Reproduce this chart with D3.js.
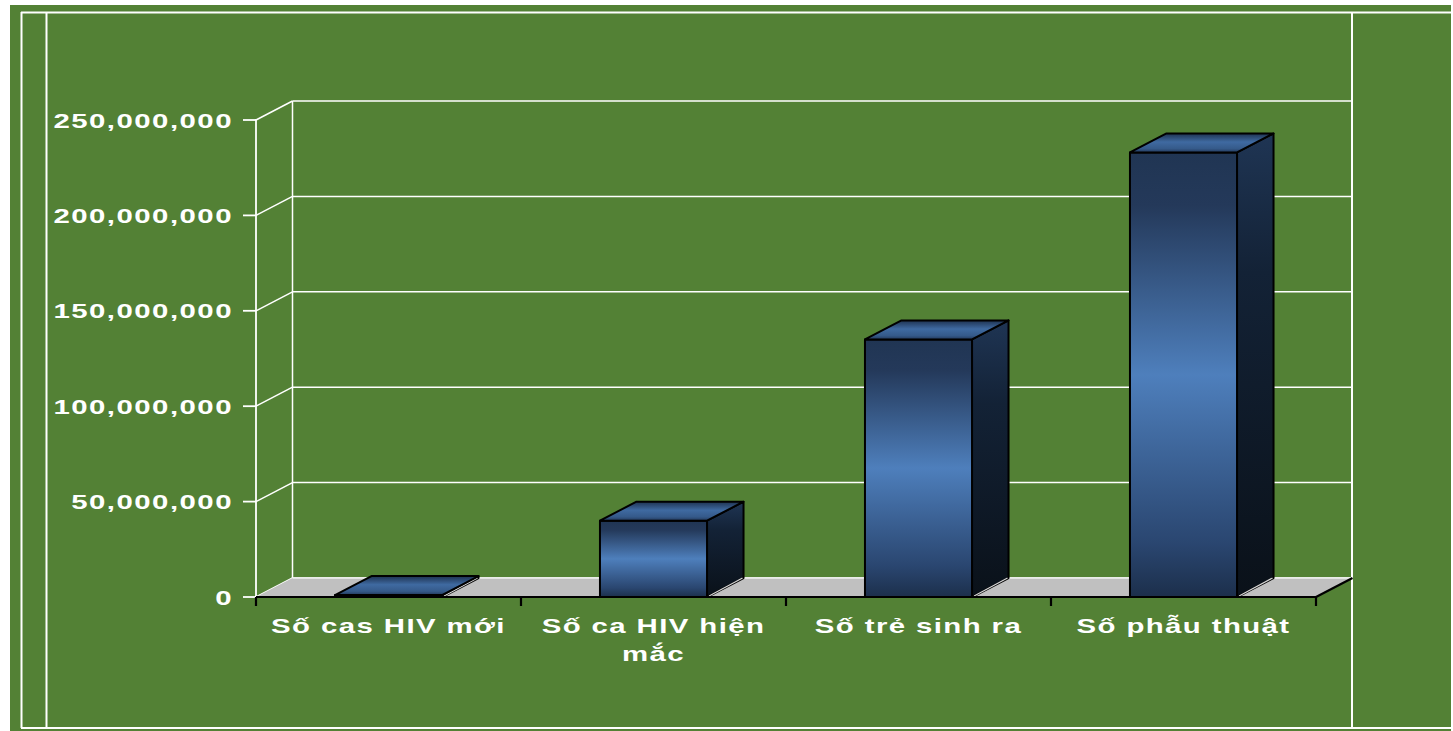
<!DOCTYPE html>
<html>
<head>
<meta charset="utf-8">
<script src="https://cdn.jsdelivr.net/npm/d3@7"></script>
<style>
  html, body { margin: 0; padding: 0; background: #ffffff; }
  svg { display: block; }
  text { font-family: Arial, "Liberation Sans", sans-serif; font-weight: bold; fill: #ffffff; }
</style>
</head>
<body>
<svg id="chart" width="1453" height="731"></svg>
<script>
// Chart data
const categories = ["Số cas HIV mới", "Số ca HIV hiện mắc", "Số trẻ sinh ra", "Số phẫu thuật"];
const values = [1000000, 40000000, 135000000, 233000000];
const yTicks = [0, 50000000, 100000000, 150000000, 200000000, 250000000];

const svg = d3.select("#chart");

// Frame and background
const green = "#538135";
svg.append("rect").attr("x", 10).attr("y", 5).attr("width", 1441).attr("height", 726).attr("fill", green);

const frame = svg.append("g").attr("stroke", "#ffffff").attr("stroke-width", 2).attr("fill", "none");
frame.append("line").attr("x1", 21).attr("x2", 1453).attr("y1", 12.5).attr("y2", 12.5);
frame.append("line").attr("x1", 21).attr("x2", 1453).attr("y1", 728).attr("y2", 728);
frame.append("line").attr("x1", 21.5).attr("x2", 21.5).attr("y1", 12).attr("y2", 728);
frame.append("line").attr("x1", 46.5).attr("x2", 46.5).attr("y1", 12).attr("y2", 728);
frame.append("line").attr("x1", 1352).attr("x2", 1352).attr("y1", 12).attr("y2", 728);

// 3D geometry: front plane scales plus a depth offset for the back wall
const depthX = 36.5, depthY = -19;
const y = d3.scaleLinear().domain([0, 250000000]).range([597, 120]);
const x = d3.scaleBand().domain(categories).range([256, 1316]).paddingInner(0.596).paddingOuter(0.298);
const x0 = 256, x1 = 1316;

// Gradients
const defs = svg.append("defs");
function grad(id, stops) {
  const g = defs.append("linearGradient").attr("id", id).attr("x1", 0).attr("y1", 0).attr("x2", 0).attr("y2", 1);
  stops.forEach(([o, c]) => g.append("stop").attr("offset", o).attr("stop-color", c));
}
grad("front", [[0, "#203553"], [0.12, "#24395a"], [0.5, "#4e7fbc"], [0.88, "#2a4670"], [1, "#1c2f4b"]]);
grad("side", [[0, "#1f3554"], [0.3, "#132236"], [1, "#0a1119"]]);
grad("top", [[0, "#1e3250"], [0.45, "#3f6aa1"], [0.8, "#355a8a"], [1, "#22385a"]]);

// Back wall and side wall gridlines
const grid = svg.append("g").attr("stroke", "#ffffff").attr("stroke-width", 1.5).attr("fill", "none");
grid.selectAll("line.back").data(yTicks).join("line")
  .attr("x1", x0 + depthX).attr("x2", 1352)
  .attr("y1", d => y(d) + depthY).attr("y2", d => y(d) + depthY);

// Floor
const yb = y(0);
svg.append("polygon")
  .attr("points", [[x0, yb], [x1, yb], [x1 + depthX, yb + depthY], [x0 + depthX, yb + depthY]].map(p => p.join(",")).join(" "))
  .attr("fill", "#c0c0c0");
svg.append("line").attr("x1", x0 + depthX).attr("x2", 1352).attr("y1", yb + depthY).attr("y2", yb + depthY)
  .attr("stroke", "#f0f0f0").attr("stroke-width", 1.5);

grid.selectAll("line.side").data(yTicks).join("line")
  .attr("x1", x0).attr("x2", x0 + depthX)
  .attr("y1", d => y(d)).attr("y2", d => y(d) + depthY);
grid.append("line").attr("x1", x0 + depthX).attr("x2", x0 + depthX)
  .attr("y1", y(0) + depthY).attr("y2", y(250000000) + depthY);

// Value axis (front edge of the side wall)
const yAxisG = svg.append("g").attr("stroke", "#ffffff").attr("stroke-width", 1.8);
yAxisG.append("line").attr("x1", x0).attr("x2", x0).attr("y1", y(0)).attr("y2", y(250000000));
yAxisG.selectAll("line.tick").data(yTicks).join("line")
  .attr("x1", x0 - 13).attr("x2", x0).attr("y1", d => y(d)).attr("y2", d => y(d));

// Labels are drawn slightly widened
const sx = 1.4;
const fmt = d3.format(",");
svg.append("g").selectAll("text").data(yTicks).join("text")
  .attr("transform", d => `translate(233,${y(d) + 7.5}) scale(${sx},1)`)
  .attr("text-anchor", "end")
  .attr("font-size", 21)
  .attr("letter-spacing", 1.05)
  .text(d => fmt(d));

// Bars
const bars = svg.append("g").attr("stroke", "#000000").attr("stroke-width", 2).attr("stroke-linejoin", "round");
categories.forEach((c, i) => {
  const bx0 = x(c), bx1 = x(c) + x.bandwidth();
  const top = y(values[i]), bot = y(0);
  const g = bars.append("g");
  const pts = a => a.map(p => p.join(",")).join(" ");
  g.append("polygon").attr("points", pts([[bx1, top], [bx1 + depthX, top + depthY], [bx1 + depthX, bot + depthY], [bx1, bot]]))
    .attr("fill", "url(#side)");
  g.append("line").attr("x1", bx1 + 2).attr("y1", bot - 1).attr("x2", bx1 + depthX - 1).attr("y2", bot + depthY)
    .attr("stroke", "#d8d8d8").attr("stroke-width", 1.2);
  g.append("rect").attr("x", bx0).attr("y", top).attr("width", bx1 - bx0).attr("height", Math.max(bot - top, 0.5))
    .attr("fill", "url(#front)");
  g.append("polygon").attr("points", pts([[bx0, top], [bx0 + depthX, top + depthY], [bx1 + depthX, top + depthY], [bx1, top]]))
    .attr("fill", "url(#top)");
});

// Category axis
const xAxisG = svg.append("g").attr("stroke", "#000000").attr("stroke-width", 2.2);
xAxisG.append("line").attr("x1", x0).attr("x2", x1).attr("y1", yb).attr("y2", yb);
xAxisG.append("line").attr("x1", x1).attr("x2", x1 + depthX).attr("y1", yb).attr("y2", yb + depthY);
const bounds = d3.range(categories.length + 1).map(i => x0 + i * x.step());
xAxisG.selectAll("line.tick").data(bounds).join("line")
  .attr("x1", d => d).attr("x2", d => d).attr("y1", yb).attr("y2", yb + 9);

// Category labels, wrapped to the category width
const labels = svg.append("g");
categories.forEach(c => {
  const cx = x(c) + x.bandwidth() / 2;
  const t = labels.append("text")
    .attr("transform", `translate(${cx},633) scale(${sx},1)`)
    .attr("text-anchor", "middle")
    .attr("font-size", 21)
    .attr("letter-spacing", 1.0);
  const words = c.split(" ");
  let line = [];
  let ts = t.append("tspan").attr("x", 0).attr("dy", 0);
  words.forEach(w => {
    line.push(w);
    ts.text(line.join(" "));
    if (ts.node().getComputedTextLength() * sx > 250 && line.length > 1) {
      line.pop();
      ts.text(line.join(" "));
      line = [w];
      ts = t.append("tspan").attr("x", 0).attr("dy", 28).text(w);
    }
  });
});
</script>
</body>
</html>
